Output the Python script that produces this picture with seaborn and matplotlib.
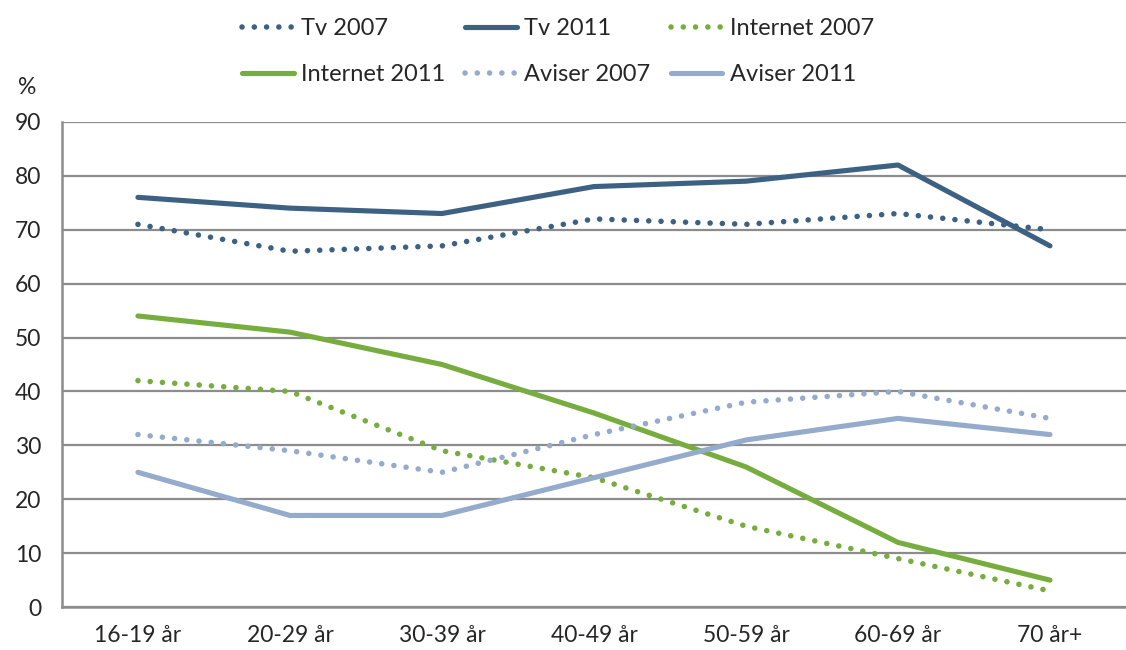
import numpy as np
import pandas as pd
import seaborn as sns
import matplotlib.pyplot as plt

ages = ["16-19 år", "20-29 år", "30-39 år", "40-49 år", "50-59 år", "60-69 år", "70 år+"]
tv_2007 = [71, 66, 67, 72, 71, 73, 70]
tv_2011 = [76, 74, 73, 78, 79, 82, 67]
internet_2007 = [42, 40, 29, 24, 15, 9, 3]
internet_2011 = [54, 51, 45, 36, 26, 12, 5]
aviser_2007 = [32, 29, 25, 32, 38, 40, 35]
aviser_2011 = [25, 17, 17, 24, 31, 35, 32]

dark_blue = "#3d6182"
green = "#77ad3e"
light_blue = "#95abcc"
grid_gray = "#8c8c8c"

sns.set_style("white")
plt.rcParams["font.family"] = ["Lato", "DejaVu Sans"]

series = [
    ("Tv 2007", tv_2007, dark_blue, "dot"),
    ("Tv 2011", tv_2011, dark_blue, "solid"),
    ("Internet 2007", internet_2007, green, "dot"),
    ("Internet 2011", internet_2011, green, "solid"),
    ("Aviser 2007", aviser_2007, light_blue, "dot"),
    ("Aviser 2011", aviser_2011, light_blue, "solid"),
]

fig = plt.figure(figsize=(11.26, 6.5), dpi=100)
ax = fig.add_axes([0.055, 0.066, 0.945, 0.7465])

xpos = np.arange(len(ages))
for name, vals, col, kind in series:
    df = pd.DataFrame({"x": xpos, "y": vals})
    if kind == "dot":
        sns.lineplot(data=df, x="x", y="y", ax=ax, color=col, lw=4.0,
                     linestyle=(0, (0.01, 2.2)), dash_capstyle="round", label=name)
    else:
        sns.lineplot(data=df, x="x", y="y", ax=ax, color=col, lw=3.7,
                     solid_capstyle="round", solid_joinstyle="round", label=name)

ax.set_xlim(-0.5, len(ages) - 0.5)
ax.set_ylim(0, 90)
ax.set_yticks(range(0, 91, 10))
ax.yaxis.grid(True, color=grid_gray, lw=1.6)
ax.set_axisbelow(True)

ax.set_xticks(np.arange(-0.5, len(ages), 1.0))
ax.set_xticklabels([])
ax.set_xticks(xpos, minor=True)
ax.set_xticklabels(ages, minor=True)
ax.tick_params(axis="x", which="major", direction="out", length=7, width=1.6, color=grid_gray)
ax.tick_params(axis="x", which="minor", length=0, pad=13, labelsize=16.5)
ax.tick_params(axis="y", direction="out", length=7, width=1.6, color=grid_gray, pad=8, labelsize=16.5)

for s in ["top", "right"]:
    ax.spines[s].set_visible(False)
for s in ["left", "bottom"]:
    ax.spines[s].set_color(grid_gray)
    ax.spines[s].set_linewidth(1.8)

ax.set_xlabel("")
ax.set_ylabel("")
fig.text(0.016, 0.855, "%", fontsize=16.5)

handles, labels = ax.get_legend_handles_labels()
order = [0, 3, 1, 4, 2, 5]
ax.legend([handles[i] for i in order], [labels[i] for i in order],
          ncol=3, loc="upper left", bbox_to_anchor=(0.196, 1.005), bbox_transform=fig.transFigure,
          frameon=False, fontsize=17, handlelength=2.2, handletextpad=0.3,
          columnspacing=0.85, labelspacing=1.05)

fig.savefig("out.png", dpi=100)
